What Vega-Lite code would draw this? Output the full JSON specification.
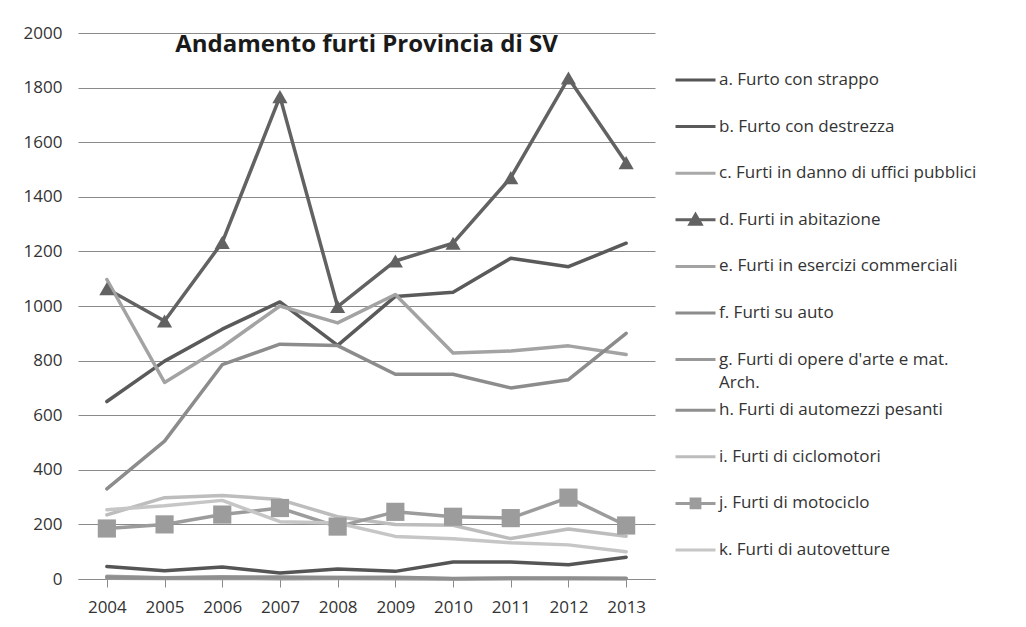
{
  "$schema": "https://vega.github.io/schema/vega-lite/v6.json",
  "autosize": {"type": "none"},
  "width": 577,
  "height": 546,
  "padding": {"left": 78, "top": 33, "right": 371, "bottom": 48},
  "background": "white",
  "title": {
    "text": "Andamento furti Provincia di SV",
    "font": "Open Sans",
    "fontSize": 24,
    "fontWeight": "bold",
    "color": "#1a1a1a",
    "anchor": "middle",
    "baseline": "top",
    "offset": -2,
    "dy": 31
  },
  "config": {
    "view": {"stroke": null},
    "font": "Open Sans"
  },
  "data": {
    "values": [
      {"series": "a. Furto con strappo", "year": "2004", "value": 46},
      {"series": "a. Furto con strappo", "year": "2005", "value": 30},
      {"series": "a. Furto con strappo", "year": "2006", "value": 44},
      {"series": "a. Furto con strappo", "year": "2007", "value": 22},
      {"series": "a. Furto con strappo", "year": "2008", "value": 37},
      {"series": "a. Furto con strappo", "year": "2009", "value": 28},
      {"series": "a. Furto con strappo", "year": "2010", "value": 62},
      {"series": "a. Furto con strappo", "year": "2011", "value": 62},
      {"series": "a. Furto con strappo", "year": "2012", "value": 52},
      {"series": "a. Furto con strappo", "year": "2013", "value": 80},
      {"series": "b. Furto con destrezza", "year": "2004", "value": 650},
      {"series": "b. Furto con destrezza", "year": "2005", "value": 798},
      {"series": "b. Furto con destrezza", "year": "2006", "value": 915},
      {"series": "b. Furto con destrezza", "year": "2007", "value": 1015},
      {"series": "b. Furto con destrezza", "year": "2008", "value": 856},
      {"series": "b. Furto con destrezza", "year": "2009", "value": 1035},
      {"series": "b. Furto con destrezza", "year": "2010", "value": 1050},
      {"series": "b. Furto con destrezza", "year": "2011", "value": 1175},
      {"series": "b. Furto con destrezza", "year": "2012", "value": 1144},
      {"series": "b. Furto con destrezza", "year": "2013", "value": 1230},
      {"series": "c. Furti in danno di uffici pubblici", "year": "2004", "value": 10},
      {"series": "c. Furti in danno di uffici pubblici", "year": "2005", "value": 5},
      {"series": "c. Furti in danno di uffici pubblici", "year": "2006", "value": 8},
      {"series": "c. Furti in danno di uffici pubblici", "year": "2007", "value": 5},
      {"series": "c. Furti in danno di uffici pubblici", "year": "2008", "value": 6},
      {"series": "c. Furti in danno di uffici pubblici", "year": "2009", "value": 5},
      {"series": "c. Furti in danno di uffici pubblici", "year": "2010", "value": 1},
      {"series": "c. Furti in danno di uffici pubblici", "year": "2011", "value": 3},
      {"series": "c. Furti in danno di uffici pubblici", "year": "2012", "value": 4},
      {"series": "c. Furti in danno di uffici pubblici", "year": "2013", "value": 3},
      {"series": "d. Furti in abitazione", "year": "2004", "value": 1063},
      {"series": "d. Furti in abitazione", "year": "2005", "value": 945},
      {"series": "d. Furti in abitazione", "year": "2006", "value": 1233},
      {"series": "d. Furti in abitazione", "year": "2007", "value": 1767},
      {"series": "d. Furti in abitazione", "year": "2008", "value": 998},
      {"series": "d. Furti in abitazione", "year": "2009", "value": 1165},
      {"series": "d. Furti in abitazione", "year": "2010", "value": 1230},
      {"series": "d. Furti in abitazione", "year": "2011", "value": 1470},
      {"series": "d. Furti in abitazione", "year": "2012", "value": 1835},
      {"series": "d. Furti in abitazione", "year": "2013", "value": 1525},
      {"series": "e. Furti in esercizi commerciali", "year": "2004", "value": 1097},
      {"series": "e. Furti in esercizi commerciali", "year": "2005", "value": 720},
      {"series": "e. Furti in esercizi commerciali", "year": "2006", "value": 850},
      {"series": "e. Furti in esercizi commerciali", "year": "2007", "value": 1000},
      {"series": "e. Furti in esercizi commerciali", "year": "2008", "value": 938},
      {"series": "e. Furti in esercizi commerciali", "year": "2009", "value": 1042},
      {"series": "e. Furti in esercizi commerciali", "year": "2010", "value": 828},
      {"series": "e. Furti in esercizi commerciali", "year": "2011", "value": 835},
      {"series": "e. Furti in esercizi commerciali", "year": "2012", "value": 854},
      {"series": "e. Furti in esercizi commerciali", "year": "2013", "value": 822},
      {"series": "f. Furti su auto", "year": "2004", "value": 330},
      {"series": "f. Furti su auto", "year": "2005", "value": 505},
      {"series": "f. Furti su auto", "year": "2006", "value": 785},
      {"series": "f. Furti su auto", "year": "2007", "value": 860},
      {"series": "f. Furti su auto", "year": "2008", "value": 855},
      {"series": "f. Furti su auto", "year": "2009", "value": 750},
      {"series": "f. Furti su auto", "year": "2010", "value": 750},
      {"series": "f. Furti su auto", "year": "2011", "value": 700},
      {"series": "f. Furti su auto", "year": "2012", "value": 730},
      {"series": "f. Furti su auto", "year": "2013", "value": 900},
      {"series": "g. Furti di opere d'arte e mat. Arch.", "year": "2004", "value": 3},
      {"series": "g. Furti di opere d'arte e mat. Arch.", "year": "2005", "value": 2},
      {"series": "g. Furti di opere d'arte e mat. Arch.", "year": "2006", "value": 2},
      {"series": "g. Furti di opere d'arte e mat. Arch.", "year": "2007", "value": 1},
      {"series": "g. Furti di opere d'arte e mat. Arch.", "year": "2008", "value": 2},
      {"series": "g. Furti di opere d'arte e mat. Arch.", "year": "2009", "value": 1},
      {"series": "g. Furti di opere d'arte e mat. Arch.", "year": "2010", "value": 0},
      {"series": "g. Furti di opere d'arte e mat. Arch.", "year": "2011", "value": 1},
      {"series": "g. Furti di opere d'arte e mat. Arch.", "year": "2012", "value": 1},
      {"series": "g. Furti di opere d'arte e mat. Arch.", "year": "2013", "value": 1},
      {"series": "h. Furti di automezzi pesanti", "year": "2004", "value": 7},
      {"series": "h. Furti di automezzi pesanti", "year": "2005", "value": 4},
      {"series": "h. Furti di automezzi pesanti", "year": "2006", "value": 6},
      {"series": "h. Furti di automezzi pesanti", "year": "2007", "value": 7},
      {"series": "h. Furti di automezzi pesanti", "year": "2008", "value": 5},
      {"series": "h. Furti di automezzi pesanti", "year": "2009", "value": 6},
      {"series": "h. Furti di automezzi pesanti", "year": "2010", "value": 2},
      {"series": "h. Furti di automezzi pesanti", "year": "2011", "value": 4},
      {"series": "h. Furti di automezzi pesanti", "year": "2012", "value": 3},
      {"series": "h. Furti di automezzi pesanti", "year": "2013", "value": 2},
      {"series": "i. Furti di ciclomotori", "year": "2004", "value": 235},
      {"series": "i. Furti di ciclomotori", "year": "2005", "value": 298},
      {"series": "i. Furti di ciclomotori", "year": "2006", "value": 306},
      {"series": "i. Furti di ciclomotori", "year": "2007", "value": 291},
      {"series": "i. Furti di ciclomotori", "year": "2008", "value": 228},
      {"series": "i. Furti di ciclomotori", "year": "2009", "value": 200},
      {"series": "i. Furti di ciclomotori", "year": "2010", "value": 197},
      {"series": "i. Furti di ciclomotori", "year": "2011", "value": 148},
      {"series": "i. Furti di ciclomotori", "year": "2012", "value": 183},
      {"series": "i. Furti di ciclomotori", "year": "2013", "value": 157},
      {"series": "j. Furti di motociclo", "year": "2004", "value": 185},
      {"series": "j. Furti di motociclo", "year": "2005", "value": 200},
      {"series": "j. Furti di motociclo", "year": "2006", "value": 236},
      {"series": "j. Furti di motociclo", "year": "2007", "value": 260},
      {"series": "j. Furti di motociclo", "year": "2008", "value": 192},
      {"series": "j. Furti di motociclo", "year": "2009", "value": 246},
      {"series": "j. Furti di motociclo", "year": "2010", "value": 228},
      {"series": "j. Furti di motociclo", "year": "2011", "value": 223},
      {"series": "j. Furti di motociclo", "year": "2012", "value": 298},
      {"series": "j. Furti di motociclo", "year": "2013", "value": 196},
      {"series": "k. Furti di autovetture", "year": "2004", "value": 254},
      {"series": "k. Furti di autovetture", "year": "2005", "value": 268},
      {"series": "k. Furti di autovetture", "year": "2006", "value": 288},
      {"series": "k. Furti di autovetture", "year": "2007", "value": 210},
      {"series": "k. Furti di autovetture", "year": "2008", "value": 205},
      {"series": "k. Furti di autovetture", "year": "2009", "value": 156},
      {"series": "k. Furti di autovetture", "year": "2010", "value": 147},
      {"series": "k. Furti di autovetture", "year": "2011", "value": 133},
      {"series": "k. Furti di autovetture", "year": "2012", "value": 125},
      {"series": "k. Furti di autovetture", "year": "2013", "value": 100}
    ]
  },
  "encoding": {
    "x": {
      "field": "year",
      "type": "ordinal",
      "scale": {"paddingInner": 0, "paddingOuter": 0},
      "axis": {
        "title": null,
        "labelAngle": 0,
        "labelFont": "Open Sans",
        "labelFontSize": 17,
        "labelColor": "#333333",
        "labelPadding": 12,
        "domainColor": "#8a8a8a",
        "tickColor": "#8a8a8a",
        "tickSize": 8,
        "bandPosition": 0,
        "grid": false
      }
    },
    "y": {
      "field": "value",
      "type": "quantitative",
      "scale": {"domain": [0, 2000], "nice": false},
      "axis": {
        "title": null,
        "values": [0, 200, 400, 600, 800, 1000, 1200, 1400, 1600, 1800, 2000],
        "format": "d",
        "labelFont": "Open Sans",
        "labelFontSize": 17,
        "labelColor": "#333333",
        "labelPadding": 16,
        "domain": false,
        "ticks": false,
        "gridColor": "#8a8a8a",
        "gridWidth": 1
      }
    },
    "color": {
      "field": "series",
      "type": "nominal",
      "scale": {
        "domain": [
          "a. Furto con strappo",
          "b. Furto con destrezza",
          "c. Furti in danno di uffici pubblici",
          "d. Furti in abitazione",
          "e. Furti in esercizi commerciali",
          "f. Furti su auto",
          "g. Furti di opere d'arte e mat. Arch.",
          "h. Furti di automezzi pesanti",
          "i. Furti di ciclomotori",
          "j. Furti di motociclo",
          "k. Furti di autovetture"
        ],
        "range": ["#555555", "#5a5a5a", "#a8a8a8", "#626262", "#a3a3a3", "#8c8c8c", "#999999", "#8f8f8f", "#bdbdbd", "#9c9c9c", "#c6c6c6"]
      },
      "legend": {
        "title": null,
        "orient": "none",
        "legendX": 596,
        "legendY": 37,
        "symbolType": "stroke",
        "symbolSize": 1600,
        "symbolStrokeWidth": 3,
        "labelFont": "Open Sans",
        "labelFontSize": 17,
        "labelColor": "#333333",
        "labelOffset": 2,
        "labelLimit": 400,
        "rowPadding": 26.6,
        "clipHeight": 20,
        "labelExpr": "indexof(datum.label, 'g. ') === 0 ? ['Arch.', slice(datum.label, 0, -6)] : datum.label",
        "encode": {
          "labels": {
            "update": {
              "lineHeight": {"signal": "indexof(datum.value, 'g. ') === 0 ? -23 : 20"},
              "dy": {"signal": "indexof(datum.value, 'g. ') === 0 ? 23 : 0"}
            }
          },
          "symbols": {
            "update": {
              "shape": {"signal": "datum.value == 'd. Furti in abitazione' ? 'M-1,0L1,0M-0.28,0.22L0,-0.26L0.28,0.22Z' : datum.value == 'j. Furti di motociclo' ? 'M-1,0L1,0M-0.22,-0.22L0.22,-0.22L0.22,0.22L-0.22,0.22Z' : 'stroke'"},
              "fill": {"scale": "color", "field": "value"}
            }
          }
        }
      }
    }
  },
  "layer": [
    {
      "mark": {"type": "line", "strokeWidth": 3.5, "strokeJoin": "round", "strokeCap": "round"}
    },
    {
      "transform": [{"filter": "datum.series == 'd. Furti in abitazione'"}],
      "mark": {"type": "point", "shape": "triangle-up", "filled": true, "opacity": 1, "size": 230}
    },
    {
      "transform": [{"filter": "datum.series == 'j. Furti di motociclo'"}],
      "mark": {"type": "point", "shape": "square", "filled": true, "opacity": 1, "size": 330}
    }
  ]
}
